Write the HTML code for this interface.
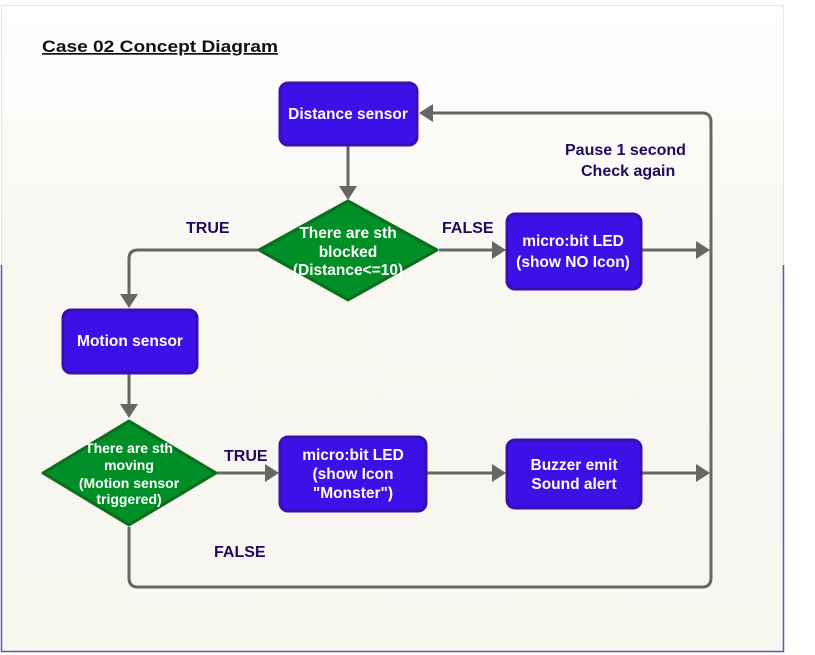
<!DOCTYPE html>
<html><head><meta charset="utf-8"><style>
html,body{margin:0;padding:0;background:#fff;width:815px;height:655px;overflow:hidden}
svg{display:block}
text{font-family:"Liberation Sans",Arial,sans-serif;font-weight:bold}
</style></head><body>
<svg width="815" height="655" viewBox="0 0 815 655" xmlns="http://www.w3.org/2000/svg">
<defs>
<linearGradient id="bg" x1="0" y1="0" x2="0" y2="1">
<stop offset="0" stop-color="#ffffff"/><stop offset="0.4" stop-color="#f8f7f1"/><stop offset="1" stop-color="#f7f6ef"/>
</linearGradient>
</defs>
<rect x="1.5" y="5.5" width="782" height="646" fill="url(#bg)" stroke="#e6e3f2" stroke-width="1"/>
<path d="M1.5 265 V651.5 H783.5 V265" fill="none" stroke="#6a4fbf" stroke-width="1.5"/>
<text x="42" y="52" font-size="17" fill="#111" text-decoration="underline" textLength="236" lengthAdjust="spacingAndGlyphs">Case 02 Concept Diagram</text>

<g fill="none" stroke="#666" stroke-width="3" stroke-linejoin="round">
<path d="M348 146 V190"/>
<path d="M258 250 H138 Q129 250 129 259 V300"/>
<path d="M129 374 V410"/>
<path d="M439 250 H496"/>
<path d="M642 250 H700"/>
<path d="M217 473 H270"/>
<path d="M427 473 H496"/>
<path d="M642 473 H700"/>
<path d="M129 527 V578 Q129 587 138 587 H702 Q711 587 711 578 V122 Q711 113 702 113 H428"/>
</g>
<g fill="#666">
<polygon points="339,186 357,186 348,200 "/>
<polygon points="120,294 138,294 129,308"/>
<polygon points="120,404 138,404 129,418"/>
<polygon points="492,241 492,259 506,250"/>
<polygon points="696,241 696,259 710,250"/>
<polygon points="265,464 265,482 279,473"/>
<polygon points="492,464 492,482 506,473"/>
<polygon points="696,464 696,482 710,473"/>
<polygon points="433,104 433,122 419,113"/>
</g>

<g fill="#3c10e6" stroke="#3a0fb0" stroke-width="3">
<rect x="280" y="83" width="137" height="62" rx="8"/>
<rect x="507" y="214" width="134" height="75" rx="8"/>
<rect x="63" y="310" width="134" height="63" rx="8"/>
<rect x="280" y="437" width="146" height="74" rx="8"/>
<rect x="507" y="440" width="134" height="68" rx="8"/>
</g>
<g fill="#008f26" stroke="#0a6e1c" stroke-width="3" stroke-linejoin="round">
<polygon points="348,201 437,250 348,300 259,250"/>
<polygon points="129,421 216,473 129,525 43,473"/>
</g>

<g fill="#fff" text-anchor="middle" font-size="15.5">
<text x="348" y="119">Distance sensor</text>
<text x="573" y="246">micro:bit LED</text>
<text x="573" y="267">(show NO Icon)</text>
<text x="130" y="346">Motion sensor</text>
<text x="353" y="460">micro:bit LED</text>
<text x="353" y="479">(show Icon</text>
<text x="353" y="498">"Monster")</text>
<text x="574" y="470">Buzzer emit</text>
<text x="574" y="489">Sound alert</text>
<text x="348" y="238">There are sth</text>
<text x="348" y="257">blocked</text>
<text x="348" y="275">(Distance&lt;=10)</text>
<g font-size="14">
<text x="129" y="453">There are sth</text>
<text x="129" y="470">moving</text>
<text x="129" y="488">(Motion sensor</text>
<text x="129" y="504">triggered)</text>
</g>
</g>
<g fill="#1e0a5e" font-size="16">
<text x="186" y="233">TRUE</text>
<text x="442" y="233">FALSE</text>
<text x="224" y="461">TRUE</text>
<text x="214" y="557">FALSE</text>
<text x="565" y="155">Pause 1 second</text>
<text x="581" y="176">Check again</text>
</g>
</svg>
</body></html>
